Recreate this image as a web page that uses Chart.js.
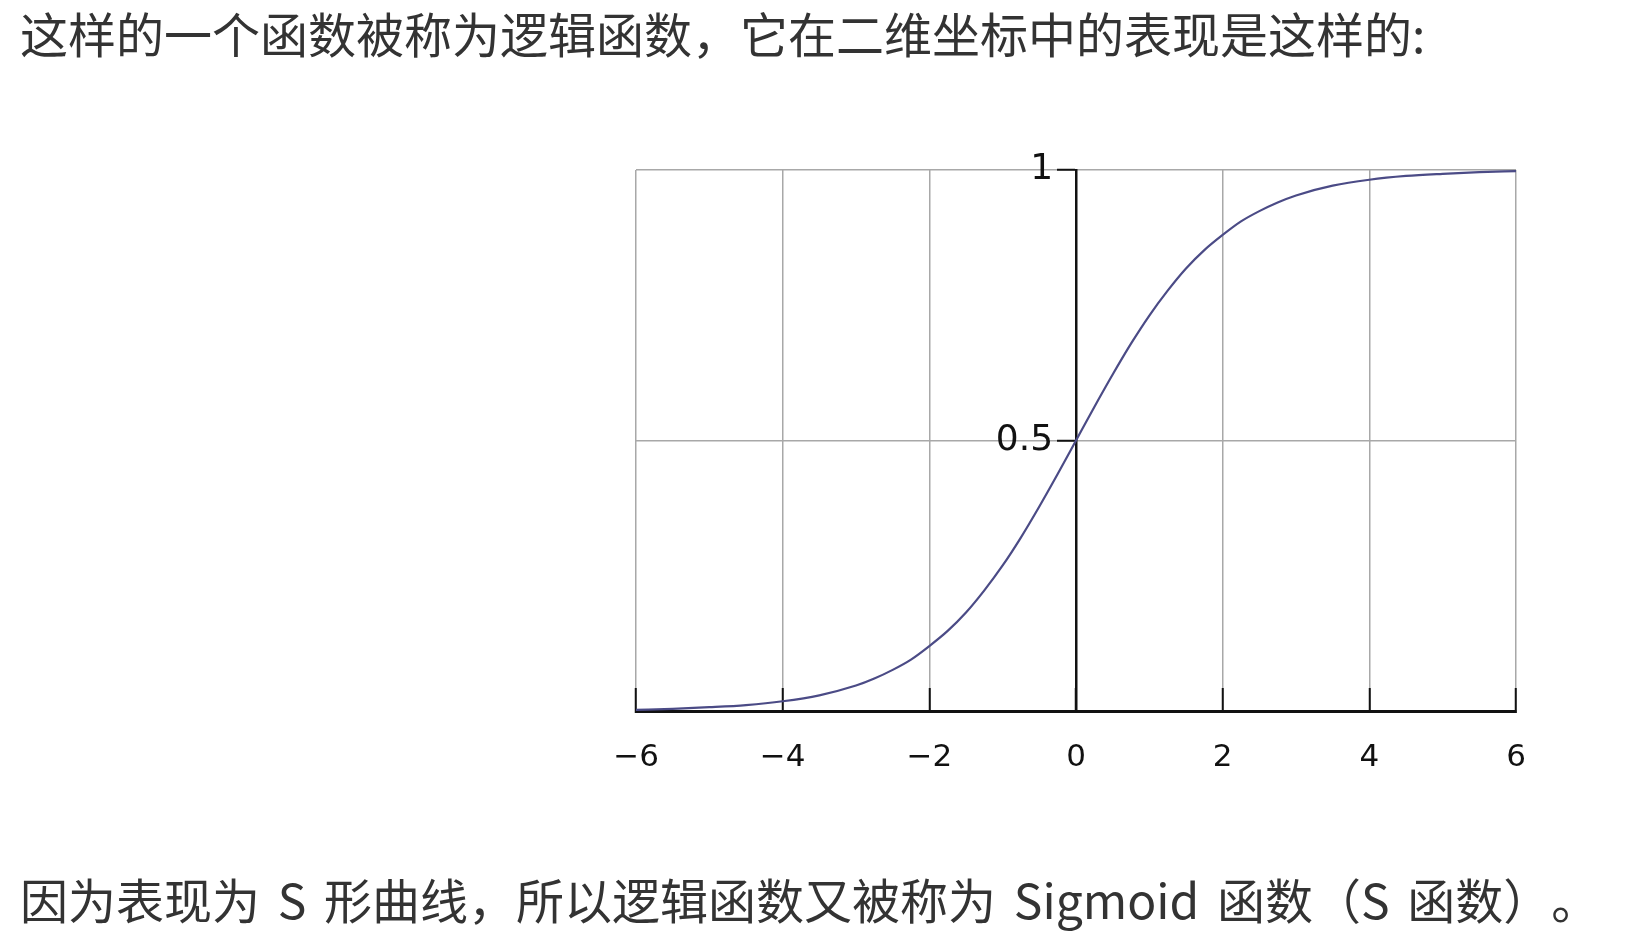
<!DOCTYPE html>
<html>
<head>
<meta charset="utf-8">
<script src="https://cdn.jsdelivr.net/npm/chart.js@4.4.1/dist/chart.umd.min.js"></script>
<style>
  html, body { margin: 0; padding: 0; background: #ffffff; }
  body { width: 1652px; height: 940px; position: relative; overflow: hidden; }
  .txt { position: absolute; left: 20px; font-family: "Noto Sans CJK SC", "Noto Sans", sans-serif; font-size: 48px; line-height: 1; color: #333333; white-space: nowrap; z-index: 2; text-spacing-trim: space-all; }
  #top { top: 8px; }
  #bottom { top: 874px; word-spacing: 7px; }
  #wrap { position: absolute; left: 0; top: 0; width: 1652px; height: 940px; z-index: 1; }
</style>
</head>
<body>
<div class="txt" id="top">这样的一个函数被称为逻辑函数，它在二维坐标中的表现是这样的:</div>
<div class="txt" id="bottom">因为表现为 S 形曲线，所以逻辑函数又被称为 Sigmoid 函数（S 函数）。</div>
<div id="wrap"><canvas id="c"></canvas></div>
<script>
const xValues = [-6, -5.5, -5, -4.5, -4, -3.5, -3, -2.75, -2.5, -2.25, -2, -1.75, -1.5, -1.25, -1, -0.75, -0.5, -0.25, 0,
                 0.25, 0.5, 0.75, 1, 1.25, 1.5, 1.75, 2, 2.25, 2.5, 2.75, 3, 3.5, 4, 4.5, 5, 5.5, 6];
// curve heights
const yValues = [0.002, 0.004, 0.007, 0.011, 0.018, 0.029, 0.047, 0.06, 0.076, 0.095, 0.12, 0.148, 0.182, 0.223, 0.269, 0.321, 0.378, 0.438, 0.5,
                 0.562, 0.622, 0.679, 0.731, 0.777, 0.818, 0.852, 0.88, 0.905, 0.924, 0.94, 0.953, 0.971, 0.982, 0.989, 0.993, 0.996, 0.998];
// tick values and labels
const xTickValues = [-6, -4, -2, 0, 2, 4, 6];
const xTickLabels = ['\u22126', '\u22124', '\u22122', '0', '2', '4', '6'];
const yTickValues = [0.5, 1];
const yTickLabels = ['0.5', '1'];

const points = xValues.map((x, i) => ({ x: x, y: yValues[i] }));

new Chart(document.getElementById('c'), {
  type: 'line',
  data: {
    datasets: [{
      data: points,
      borderColor: '#4b4b86',
      borderWidth: 2.2,
      pointRadius: 0,
      cubicInterpolationMode: 'monotone',
      fill: false
    }]
  },
  options: {
    responsive: true,
    maintainAspectRatio: false,
    animation: false,
    layout: { padding: { left: 636, top: 170, right: 136, bottom: 129 } },
    plugins: { legend: { display: false }, tooltip: { enabled: false } },
    scales: {
      x: {
        type: 'linear',
        position: 'bottom',
        min: -6,
        max: 6,
        afterBuildTicks: (s) => { s.ticks = xTickValues.map(v => ({ value: v })); },
        afterFit: (s) => { s.height = 100; },
        ticks: {
          autoSkip: false,
          maxRotation: 0,
          padding: 51,
          color: '#111111',
          font: { family: 'DejaVu Sans', size: 31 },
          callback: (v) => { const i = xTickValues.indexOf(v); return i >= 0 ? xTickLabels[i] : ''; }
        },
        grid: {
          color: '#a8a8a8',
          lineWidth: 1.5,
          drawTicks: true,
          tickLength: -23,
          tickColor: '#111111',
          tickWidth: 2
        },
        border: { display: true, color: '#111111', width: 3 }
      },
      y: {
        type: 'linear',
        position: { x: 0 },
        min: 0,
        max: 1,
        afterBuildTicks: (s) => { s.ticks = yTickValues.map(v => ({ value: v })); },
        ticks: {
          padding: 5,
          color: '#111111',
          font: { family: 'DejaVu Sans', size: 36 },
          // trailing spaces keep the label clear of the tick mark on the centred axis
          callback: (v) => { const i = yTickValues.indexOf(v); return i >= 0 ? yTickLabels[i] + '  ' : ''; }
        },
        grid: {
          color: '#a8a8a8',
          lineWidth: 1.5,
          drawTicks: true,
          tickLength: 18,
          tickColor: '#111111',
          tickWidth: 2
        },
        border: { display: true, color: '#111111', width: 2.5 }
      }
    }
  }
});
</script>
</body>
</html>
